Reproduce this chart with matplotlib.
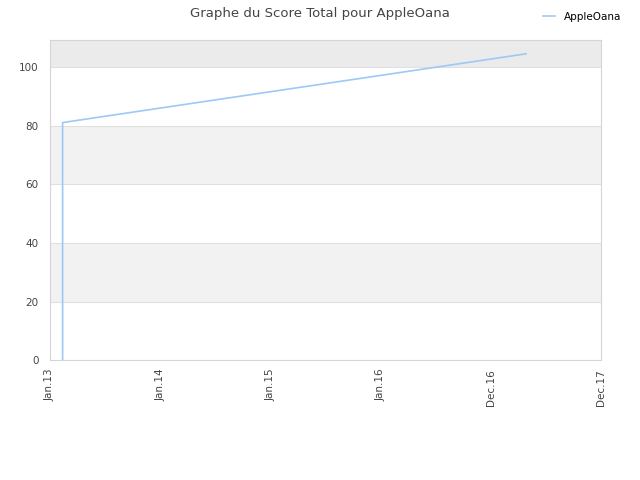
import matplotlib
matplotlib.use("Agg")
import matplotlib.pyplot as plt

# data (x in tick units, 0 = Jan.13)
xDates=[0.115,0.115,4.32]
scores=[0,81,104.4]
tickLabels=["Jan.13","Jan.14","Jan.15","Jan.16","Dec.16","Dec.17"]
yTicks=[0,20,40,60,80,100]

fig=plt.figure(figsize=(6.4,4.8),dpi=100)
ax=fig.add_axes([0.078,0.249,0.861,0.667])

#alternating bands
ax.axhspan(20,40,color="#f2f2f2",zorder=0,lw=0)
ax.axhspan(60,80,color="#f2f2f2",zorder=0,lw=0)
ax.axhspan(100,200,color="#ebebeb",zorder=0,lw=0)
for yv in yTicks[1:]:
    ax.axhline(yv,color="#e0e0e0",lw=0.8,zorder=1)

ax.plot(xDates,scores,color="#9cc9f5",lw=1.2,label="AppleOana",zorder=3)

ax.set_xlim(0,5)
ax.set_ylim(0,109)
ax.set_xticks(range(len(tickLabels)))
ax.set_xticklabels(tickLabels,rotation=90,fontsize=7.5,color="#444444")
ax.set_yticks(yTicks)
ax.tick_params(axis="y",labelsize=7.5,colors="#444444",length=0,pad=8)
ax.tick_params(axis="x",length=0,pad=6)
for s in ax.spines.values():
    s.set_color("#d5d5d5")

fig.suptitle("Graphe du Score Total pour AppleOana",x=0.5,y=0.985,fontsize=9.5,color="#444444")
fig.legend(loc="upper right",bbox_to_anchor=(0.985,0.995),frameon=False,fontsize=7.5,handlelength=1.2)

plt.savefig("out.png")
